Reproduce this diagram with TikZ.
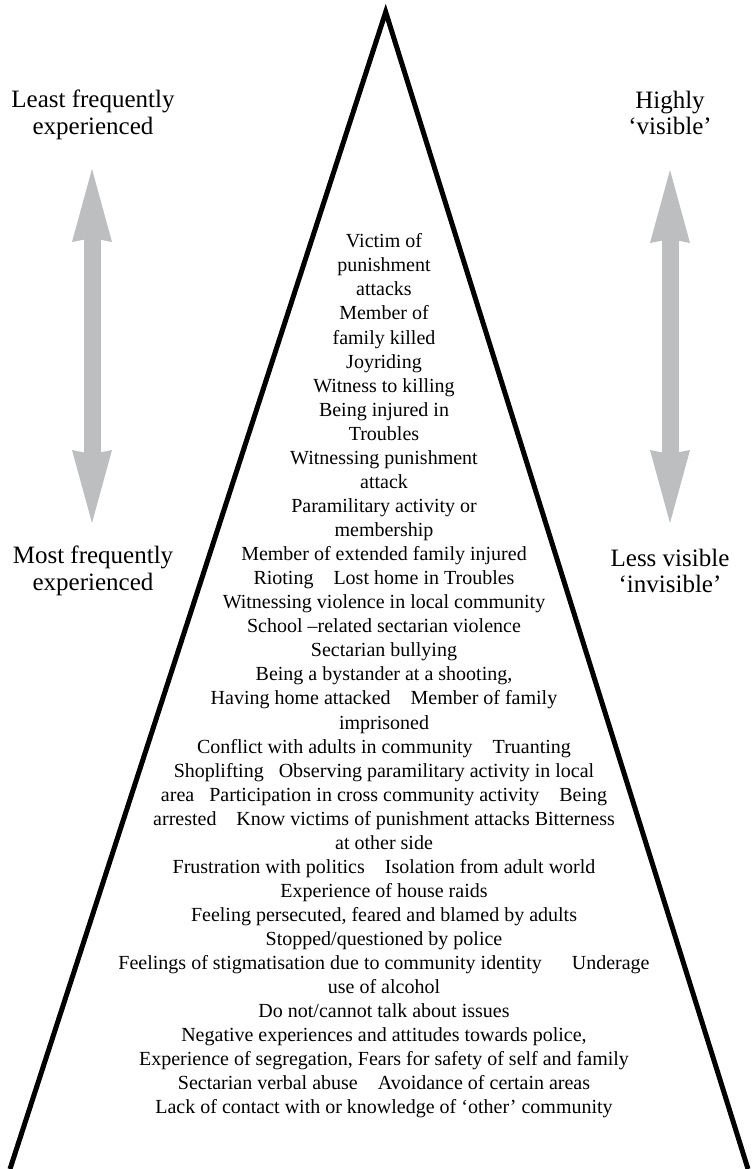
\documentclass[tikz,border=0pt]{standalone}
\usepackage{fontspec}
\setmainfont{Liberation Serif}
\usepackage{tikz}
\usetikzlibrary{arrows.meta}
\definecolor{arrowgray}{HTML}{BCBEC0}

\begin{document}
\begin{tikzpicture}[x=1pt, y=-1pt,
  sidelabel/.style={align=center, inner sep=0pt, font=\fontsize{25}{26.5}\selectfont},
  grayarrow/.style={arrowgray, line width=17pt,
    {Stealth[length=73pt, width=40pt, inset=4pt, line width=0pt]}-{Stealth[length=73pt, width=40pt, inset=4pt, line width=0pt]}}]
\useasboundingbox (0,0) rectangle (752,1169);

% Pyramid
\coordinate (apex) at (385.7,12);
\coordinate (baseL) at (10,1169);
\coordinate (baseR) at (748,1169);
\draw[line width=5pt, line join=miter] (baseL) -- (apex) -- (baseR);

% Left scale
\node[sidelabel] (leastfreq) at (93,115) {Least frequently\\experienced};
\node[sidelabel] (mostfreq) at (93,571) {Most frequently\\experienced};
\coordinate (ltop) at (92,169);
\coordinate (lbot) at (92,523);
\draw[grayarrow] (ltop) -- (lbot);

% Right scale
\node[sidelabel] (highvis) at (670,113) {Highly\\‘visible’};
\node[sidelabel] (lessvis) at (670,571) {Less visible\\‘invisible’};
\coordinate (rtop) at (670,170);
\coordinate (rbot) at (670,523);
\draw[grayarrow] (rtop) -- (rbot);

% Experiences
\node[align=center, inner sep=0pt, font=\fontsize{20}{24.06}\selectfont] (items) at (384,676) {%
Victim of\\
punishment\\
attacks\\
Member of\\
family killed\\
Joyriding\\
Witness to killing\\
Being injured in\\
Troubles\\
Witnessing punishment\\
attack\\
Paramilitary activity or\\
membership\\
Member of extended family injured\\
Rioting\quad Lost home in Troubles\\
Witnessing violence in local community\\
School –related sectarian violence\\
Sectarian bullying\\
Being a bystander at a shooting,\\
Having home attacked\quad Member of family\\
imprisoned\\
Conflict with adults in community\quad Truanting\\
Shoplifting\enspace{} Observing paramilitary activity in local\\
area\enspace{} Participation in cross community activity\quad Being\\
arrested\quad Know victims of punishment attacks Bitterness\\
at other side\\
Frustration with politics\quad Isolation from adult world\\
Experience of house raids\\
Feeling persecuted, feared and blamed by adults\\
Stopped/questioned by police\\
Feelings of stigmatisation due to community identity\hspace{1.5em}Underage\\
use of alcohol\\
Do not/cannot talk about issues\\
Negative experiences and attitudes towards police,\\
Experience of segregation, Fears for safety of self and family\\
Sectarian verbal abuse\quad Avoidance of certain areas\\
Lack of contact with or knowledge of ‘other’ community};
\end{tikzpicture}
\end{document}
